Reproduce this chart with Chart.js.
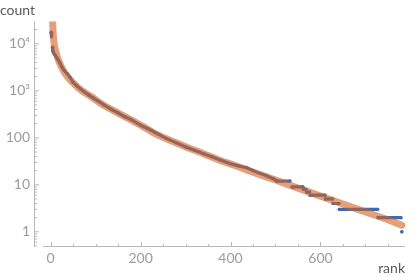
<!DOCTYPE html>
<html>
<head>
<meta charset="utf-8">
<script src="https://cdn.jsdelivr.net/npm/chart.js@4/dist/chart.umd.min.js"></script>
<style>
  html, body { margin: 0; padding: 0; background: #fff; }
  #wrap { position: relative; width: 411px; height: 277px; }
</style>
</head>
<body>
<div id="wrap"><canvas id="chart"></canvas></div>
<script>
// observed counts by rank (upper, dense part)
const blueRank = [1, 2, null, 4, 5, 7, 9, 11, 14, 17, 20, 25, 30, 37, 43, 50, 58, 66, 75, 85, 95, 105, 120, 135, 150, 165, 180, 200, 220, 240, 258, 280, 300, 320, 340, 360, 380, 400, 420, 436, 450, 465, 480, 495];
const blueCount = [17500, 14200, null, 8400, 7000, 6300, 5900, 5500, 5000, 4500, 4000, 3200, 2700, 2300, 1950, 1500, 1280, 1100, 940, 810, 700, 610, 490, 400, 340, 280, 240, 185, 150, 118, 96, 78, 64, 54, 46, 39, 33, 28, 25, 23, 20, 17.5, 15.5, 13.5];

// tail: integer counts held over a run of ranks
const tailCount = [12, 9, 8, 7, 6, 5, 4, 3, 2, 1];
const tailFirst = [503, 537, 562, 569, 577, 611, 628, 642, 728, 781];
const tailLast = [532, 561, 568, 576, 610, 627, 641, 727, 779, 781];

// fitted curve
const fitRank = [2, 3, 4.4, 6, 8, 11, 16, 24, 32, 41, 50, 65, 88, 120, 160, 200, 228, 260, 303, 340, 377, 410, 450, 500, 550, 600, 650, 700, 750, 781];
const fitCount = [90000, 48000, 30000, 14500, 9800, 7200, 4900, 3200, 2350, 1800, 1480, 1080, 775, 480, 300, 186, 129, 93, 63, 46, 33, 25.7, 18.6, 12.6, 8.5, 5.75, 3.9, 2.65, 1.8, 1.38];

// axes
const xMajor = [0, 200, 400, 600];
const xMinor = [50, 100, 150, 250, 300, 350, 450, 500, 550, 650, 700, 750];
const yMajor = [1, 10, 100, 1000, 10000];
const yMajorLabels = ['1', '10', '100', '10\u00b3', '10\u2074'];

const yMinor = [0.5, 0.6, 0.7, 0.8, 0.9];
for (const d of [1, 10, 100, 1000, 10000]) {
  for (let k = 2; k <= 9; k++) {
    if (k * d < 29900) yMinor.push(k * d);
  }
}

const blueData = blueRank.map((r, i) => ({ x: r === null ? 2.5 : r, y: blueCount[i] }));
tailCount.forEach((c, i) => {
  blueData.push({ x: tailFirst[i], y: c });
  if (tailLast[i] !== tailFirst[i]) blueData.push({ x: tailLast[i], y: c });
  if (i < tailCount.length - 1) {
    blueData.push({ x: (tailLast[i] + tailFirst[i + 1]) / 2, y: null });
  }
});

const fitData = fitRank.map((r, i) => ({ x: r, y: fitCount[i] }));

const AXIS = '#b8b8b8';
const LABEL = '#9c9c9c';

const mmaAxes = {
  id: 'mmaAxes',
  afterDraw(chart) {
    const { ctx, chartArea: a, scales: { x, y } } = chart;
    const yLineX = Math.round(a.left - 9) + 0.5;
    const xLineY = Math.round(a.bottom) - 0.5;
    ctx.save();
    ctx.strokeStyle = AXIS;
    ctx.lineWidth = 1;
    ctx.beginPath();
    ctx.moveTo(yLineX, a.top);
    ctx.lineTo(yLineX, a.bottom);
    ctx.moveTo(a.left, xLineY);
    ctx.lineTo(a.right, xLineY);
    for (const t of y.ticks) {
      const py = y.getPixelForValue(t.value);
      const len = yMajor.includes(t.value) ? 4.5 : 2.5;
      ctx.moveTo(yLineX, py);
      ctx.lineTo(yLineX + len, py);
    }
    for (const t of x.ticks) {
      const px = Math.round(x.getPixelForValue(t.value)) + 0.5;
      const len = xMajor.includes(t.value) ? 4.5 : 2.5;
      ctx.moveTo(px, xLineY);
      ctx.lineTo(px, xLineY - len);
    }
    ctx.stroke();
    ctx.restore();
  }
};

new Chart(document.getElementById('chart'), {
  type: 'line',
  data: {
    datasets: [
      {
        label: 'fit',
        data: fitData,
        borderColor: 'rgba(210, 97, 30, 0.6)',
        borderWidth: 7,
        borderCapStyle: 'round',
        borderJoinStyle: 'round',
        cubicInterpolationMode: 'monotone',
        pointRadius: 0,
        clip: { left: 0, top: 0, right: 6, bottom: 6 },
        order: 0
      },
      {
        label: 'count',
        data: blueData,
        borderColor: '#3a6cb4',
        backgroundColor: '#3a6cb4',
        borderWidth: 3.2,
        borderCapStyle: 'round',
        borderJoinStyle: 'round',
        pointRadius: 1.7,
        pointBorderWidth: 0,
        spanGaps: false,
        order: 1
      }
    ]
  },
  options: {
    responsive: true,
    maintainAspectRatio: false,
    animation: false,
    layout: { padding: { left: 0, right: 6, top: 0, bottom: 0 } },
    plugins: {
      legend: { display: false },
      tooltip: { enabled: false },
      title: {
        display: true,
        text: 'count',
        align: 'start',
        color: '#5a5a5a',
        font: { family: 'Lato', size: 14, weight: 'normal' },
        padding: { top: 1, bottom: 2.2 }
      }
    },
    scales: {
      x: {
        type: 'linear',
        min: -17,
        max: 788,
        grid: { display: false, drawTicks: false },
        border: { display: false },
        afterBuildTicks: (scale) => {
          scale.ticks = xMajor.concat(xMinor).sort((a, b) => a - b).map(v => ({ value: v }));
        },
        afterFit: (scale) => { scale.height = 30; },
        ticks: {
          autoSkip: false,
          maxRotation: 0,
          padding: 3,
          color: LABEL,
          font: { family: 'Lato', size: 14 },
          callback: (v) => xMajor.includes(v) ? String(v) : ''
        },
        title: {
          display: true,
          text: 'rank',
          align: 'end',
          color: '#5a5a5a',
          font: { family: 'Lato', size: 14 },
          padding: { top: 0, bottom: 0 }
        }
      },
      y: {
        type: 'logarithmic',
        min: 0.475,
        max: 29900,
        grid: { display: false, drawTicks: false },
        border: { display: false },
        afterBuildTicks: (scale) => {
          scale.ticks = yMajor.concat(yMinor).sort((a, b) => a - b).map(v => ({ value: v }));
        },
        afterFit: (scale) => { scale.width = 43; },
        ticks: {
          autoSkip: false,
          padding: 13,
          color: LABEL,
          font: { family: 'Lato', size: 14 },
          callback: (v) => {
            const i = yMajor.indexOf(v);
            return i >= 0 ? yMajorLabels[i] : '';
          }
        }
      }
    }
  },
  plugins: [mmaAxes]
});
</script>
</body>
</html>
